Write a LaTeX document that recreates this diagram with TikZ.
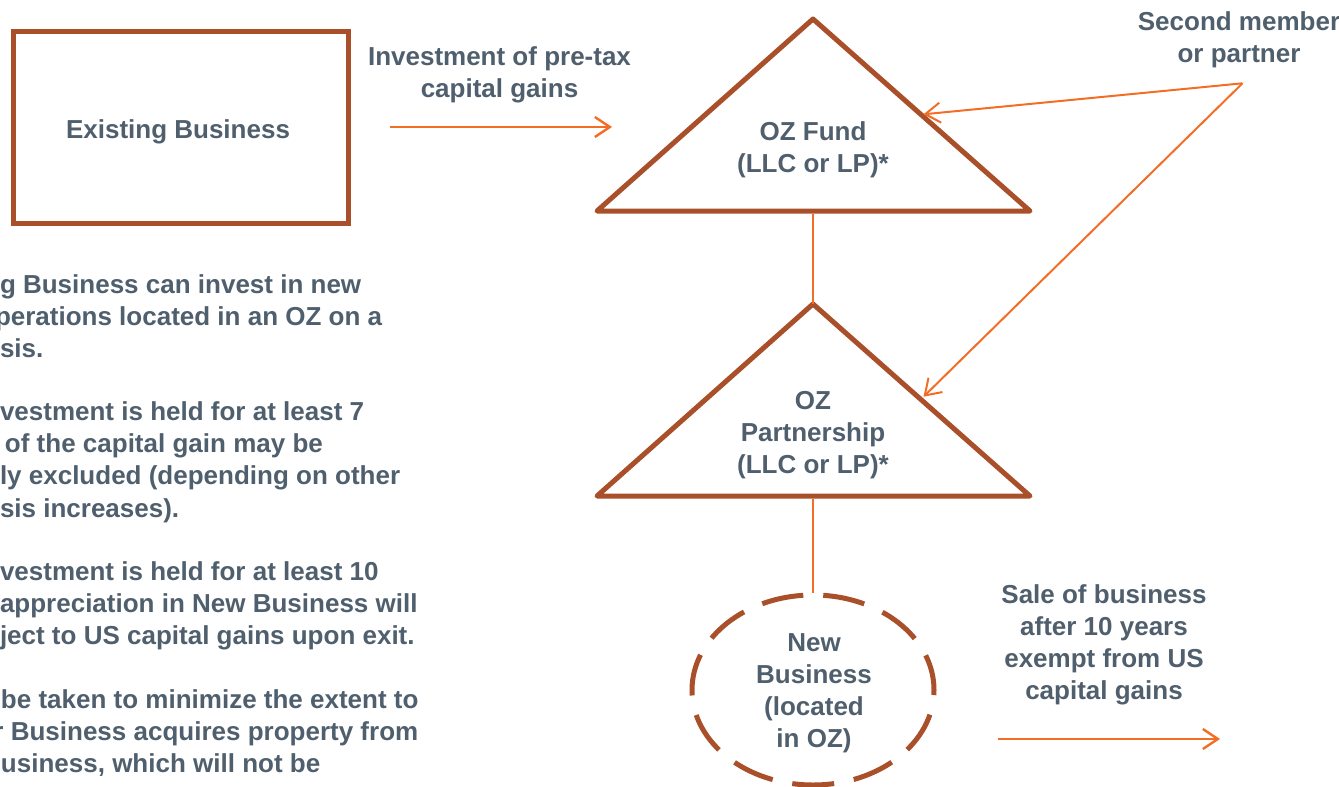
\documentclass[tikz,border=0pt]{standalone}
\usepackage{fontspec}
\setmainfont{Liberation Sans}
\usetikzlibrary{arrows.meta,shapes.geometric}
\definecolor{brownline}{HTML}{A9502B}
\definecolor{orangeline}{HTML}{F36E25}
\definecolor{slatetext}{HTML}{4F5F6D}
\begin{document}
\begin{tikzpicture}[x=1pt,y=-1pt,
  lbl/.style={text=slatetext, font=\bfseries\fontsize{26}{32}\selectfont, align=center, inner sep=0pt, outer sep=0pt},
  note/.style={text=slatetext, font=\bfseries\fontsize{26}{32.3}\selectfont, align=left, anchor=north west, inner sep=0pt, outer sep=0pt},
  shapeline/.style={draw=brownline, line width=5pt, line join=round},
  flow/.style={draw=orangeline, line width=2.4pt, -{Straight Barb[length=15pt,width=20pt]}},
  feed/.style={draw=orangeline, line width=2pt, -{Straight Barb[length=15pt,width=20pt]}},
  link/.style={draw=orangeline, line width=1.5pt},
]
\useasboundingbox (0,0) rectangle (1339,787);
\clip (0,0) rectangle (1339,787);

% Existing business box
\node[draw=brownline, line width=5pt, minimum width=335.5pt, minimum height=192.5pt, inner sep=0pt] (eb) at (180.75,127.25) {};
\node[lbl, anchor=base] (ebt) at (178,138.5) {Existing Business};

% investment arrow
\node[lbl, anchor=north] (invl) at (499.5,46.5) {Investment of pre-tax\\capital gains};
\coordinate (a1s) at (390,127);
\coordinate (a1e) at (612,127);
\draw[flow] (a1s) -- (a1e);

% OZ Fund triangle
\coordinate (t1a) at (813,19);
\coordinate (t1l) at (597,211);
\coordinate (t1r) at (1030,211);
\draw[shapeline] (t1a) -- (t1r) -- (t1l) -- cycle;
\node[lbl, anchor=north] (ozf) at (813,121.5) {OZ Fund\\(LLC or LP)*};

% OZ Partnership triangle
\coordinate (t2a) at (813,304);
\coordinate (t2l) at (597,496);
\coordinate (t2r) at (1030,496);
\draw[shapeline] (t2a) -- (t2r) -- (t2l) -- cycle;
\node[lbl, anchor=north] (ozp) at (813,391.5) {OZ\\Partnership\\(LLC or LP)*};

\coordinate (t1b) at (813,213.5);
\coordinate (t2b) at (813,498.5);
\draw[link] (t1b) -- (t2a);

% New business ellipse
\node[shape=ellipse, draw=brownline, line width=5pt, dash pattern=on 42pt off 20pt, dash phase=6pt,
      minimum width=242pt, minimum height=190pt, inner sep=0pt] (nb) at (813,690) {};
\node[lbl, anchor=north] (nbt) at (814,633.5) {New\\Business\\(located\\in OZ)};
\draw[link] (t2b) -- (nb.north);

% Second member or partner
\node[lbl, anchor=north] (sm) at (1239,11.5) {Second member\\or partner};
\coordinate (smp) at (1242.5,83.3);
\coordinate (t1hit) at (923.5,114.3);
\coordinate (t2hit) at (923.5,396.7);
\draw[feed] (smp) -- (t1hit);
\draw[feed] (smp) -- (t2hit);

% Sale arrow
\node[lbl, anchor=north] (sale) at (1104,584.5) {Sale of business\\after 10 years\\exempt from US\\capital gains};
\coordinate (a2s) at (998,739);
\coordinate (a2e) at (1220,739);
\draw[flow] (a2s) -- (a2e);

% Left notes (cut off at the page edge)
\node[note] (n1) at (0,274.5) {g Business can invest in new\\\hspace*{-5pt}perations located in an OZ on a\\sis.};
\node[note] (n2) at (0,401.5) {vestment is held for at least 7\\\hspace*{5pt}of the capital gain may be\\ly excluded (depending on other\\sis increases).};
\node[note] (n3) at (0,561.5) {vestment is held for at least 10\\appreciation in New Business will\\ject to US capital gains upon exit.};
\node[note] (n4) at (1,689.5) {be taken to minimize the extent to\\\hspace*{-7.5pt}r Business acquires property from\\usiness, which will not be};
\end{tikzpicture}
\end{document}
